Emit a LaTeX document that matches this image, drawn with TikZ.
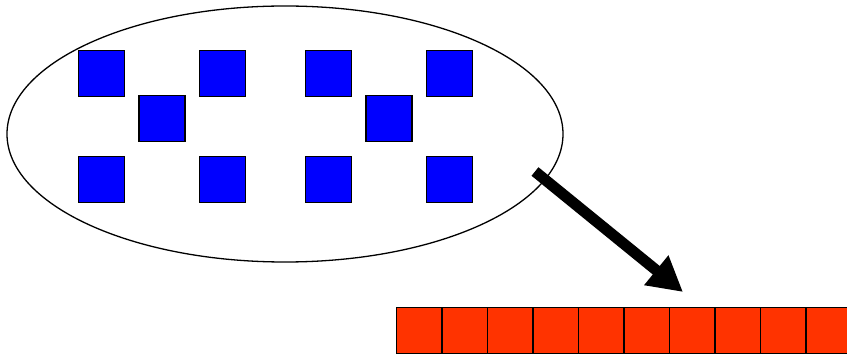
\documentclass[tikz,border=0pt]{standalone}
\usetikzlibrary{arrows.meta,shapes.geometric}
\begin{document}
\begin{tikzpicture}[x=1pt,y=-1pt,
  bluesq/.style={draw=black,line width=1.4pt,fill=blue,minimum size=46pt,inner sep=0pt,outer sep=0pt},
  redcell/.style={draw=black,line width=1.4pt,fill={rgb,255:red,255;green,51;blue,0},minimum width=45.5pt,minimum height=46pt,inner sep=0pt,outer sep=0pt},
  bigarrow/.style={line width=11pt,-{Triangle[length=34.5pt,width=36pt]}}]
\clip (0,0) rectangle (847,355);
\node[ellipse,draw=black,line width=1.3pt,minimum width=556pt,minimum height=256pt,inner sep=0pt] (cloud) at (285,134) {};
\foreach \dx/\g in {0/a,227/b}{
  \node[bluesq] (\g1) at (101.3+\dx,73.3) {};
  \node[bluesq] (\g2) at (222.3+\dx,73.3) {};
  \node[bluesq] (\g3) at (162+\dx,118.7) {};
  \node[bluesq] (\g4) at (101.3+\dx,179.5) {};
  \node[bluesq] (\g5) at (222.3+\dx,179.5) {};
}
\foreach \i in {0,...,9}{
  \node[redcell] (r\i) at (419.25+45.5*\i,330.5) {};
}
\coordinate (tail) at (535,171.5);
\coordinate (tip) at (683,292);
\draw[bigarrow] (tail) -- (tip);
\end{tikzpicture}
\end{document}
